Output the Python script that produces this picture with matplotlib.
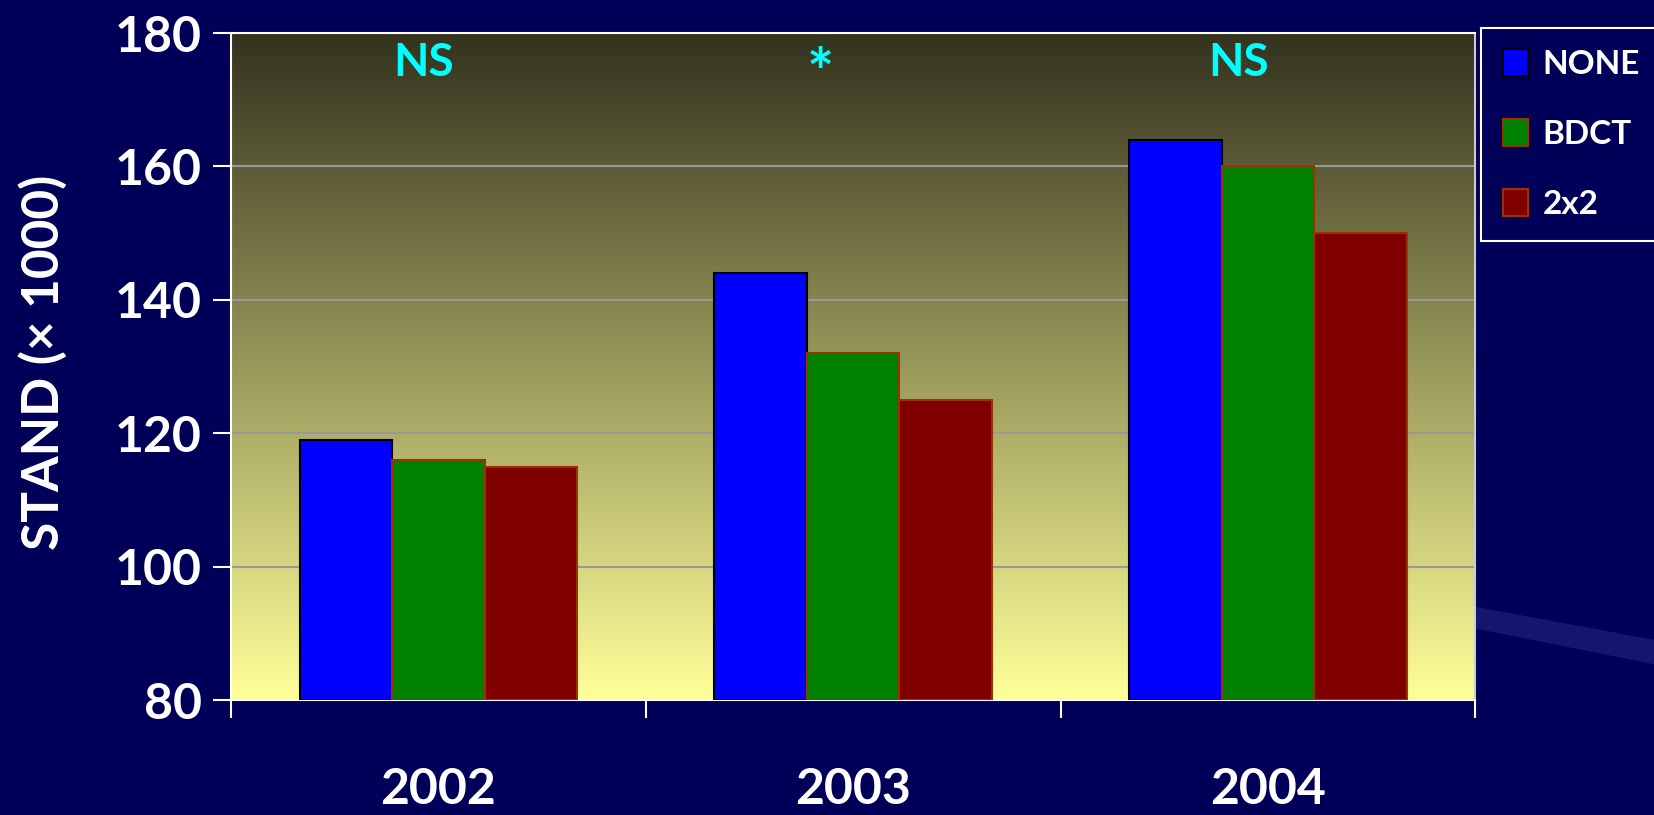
import numpy as np
import matplotlib.pyplot as plt
from matplotlib.patches import Polygon

years = ['2002', '2003', '2004']
series = ['NONE', 'BDCT', '2x2']
none_vals = [119, 144, 164]
bdct_vals = [116, 132, 160]
x2_vals = [115, 125, 150]
signif = ['NS', '*', 'NS']

bar_colors = ['#0000FF', '#008000', '#800000']
edge_colors = ['#000000', '#993300', '#993300']
bg = '#000058'

plt.rcParams['font.family'] = ['Lato', 'DejaVu Sans']
plt.rcParams['font.weight'] = 'bold'

fig = plt.figure(figsize=(16.54, 8.15), dpi=100)
fig.patch.set_facecolor(bg)

# faint light streak in the slide background (behind the axes)
fig.patches.append(Polygon([(0.84, 0.275), (1.0, 0.215), (1.0, 0.185), (0.84, 0.25)],
                           closed=True, transform=fig.transFigure, facecolor='#3a3aa0',
                           alpha=0.35, edgecolor='none', zorder=0))

ax = fig.add_axes([0.1397, 0.141, 0.7523, 0.8185])
ax.set_zorder(2)

# gradient plot area: dark olive at top to pale yellow at bottom
top = np.array([0x33, 0x32, 0x1E]) / 255
bot = np.array([0xFF, 0xFF, 0x99]) / 255
t = np.linspace(0, 1, 256)[:, None]
grad = (top * (1 - t) + bot * t)[:, None, :]
ax.imshow(grad, extent=[0, 1, 0, 1], transform=ax.transAxes, aspect='auto', zorder=0)

x = np.arange(1, len(years) + 1)
w = 0.223
for i, vals in enumerate([none_vals, bdct_vals, x2_vals]):
    ax.bar(x + (i - 1) * w, np.array(vals) - 80, bottom=80, width=w,
           color=bar_colors[i], edgecolor=edge_colors[i], linewidth=1.5,
           label=series[i], zorder=3)

shift = [-0.035, -0.08, -0.07]
for xi, s, dx in zip(x, signif, shift):
    fs = 33 if s != '*' else 46
    yy = 175.5 if s != '*' else 173.5
    ax.text(xi + dx, yy, s, color='#00FFFF', fontsize=fs, fontweight='bold',
            ha='center', va='center', zorder=4)

ax.set_xlim(0.5, 3.5)
ax.set_ylim(80, 180)
ax.set_yticks([80, 100, 120, 140, 160, 180])
ax.yaxis.grid(True, color='#999999', linewidth=1.5, zorder=1)
ax.set_axisbelow(True)

ax.set_xticks([0.5, 1.5, 2.5, 3.5])
ax.set_xticklabels([])
ax.set_xticks(x, minor=True)
ax.set_xticklabels(years, minor=True)
ax.tick_params(axis='x', which='major', length=13, width=1.5, color='white', direction='out')
ax.tick_params(axis='x', which='minor', length=0, pad=48, labelsize=36, labelcolor='white')
ax.tick_params(axis='y', length=13, width=1.5, color='white', direction='out',
               labelsize=36, labelcolor='white', pad=8)
for sp in ax.spines.values():
    sp.set_color('white')
    sp.set_linewidth(1.5)
ax.spines['right'].set_color('#cccccc')

fig.text(0.026, 0.555, 'STAND (× 1000)', rotation=90, color='white', fontsize=37,
         fontweight='bold', ha='center', va='center')

leg = fig.legend(loc='upper left', bbox_to_anchor=(0.8955, 0.966), fontsize=24,
                 frameon=True, fancybox=False, facecolor=bg, edgecolor='white',
                 labelcolor='white', handlelength=0.75, handleheight=0.85,
                 labelspacing=1.2, borderpad=0.65, borderaxespad=0, handletextpad=0.45)
leg.get_frame().set_linewidth(1.5)
leg.get_frame().set_alpha(1)
leg.set_zorder(3)

fig.savefig('out.png', dpi=100, facecolor=fig.get_facecolor())
